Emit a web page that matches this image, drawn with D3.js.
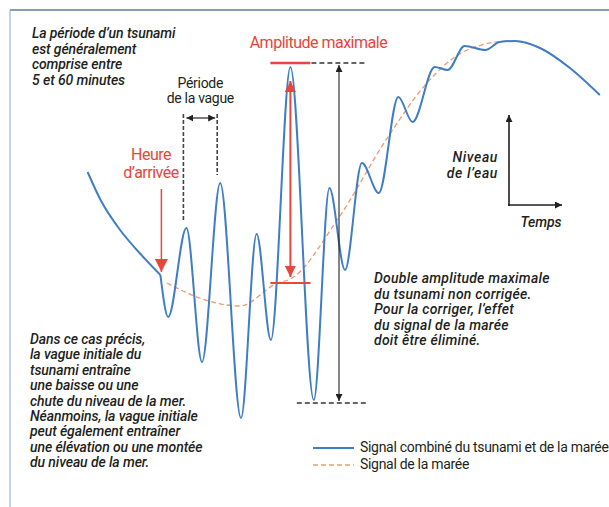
<!DOCTYPE html>
<html>
<head>
<meta charset="utf-8">
<script src="https://cdn.jsdelivr.net/npm/d3@7"></script>
<style>
  body { margin: 0; background: #fff; }
  text { font-family: Roboto, "Open Sans", sans-serif; fill: #231f20; }
  .note { font-style: italic; font-size: 14px; letter-spacing: -0.1px; font-weight: 500; }
  .note.wide { letter-spacing: 0.25px; }
  .note.axis { letter-spacing: 0.6px; }
  .red { fill: #e8453c; font-size: 16px; letter-spacing: -0.5px; }
</style>
</head>
<body>
<div id="chart"></div>
<script>
// time in minutes, water level in cm
var signalTime = [1, 6, 13.5, 21, 29, 32, 39, 45, 52, 60, 66, 71.5, 79, 88, 94, 100, 106.5, 113, 120.5, 126, 134.5, 139.5, 146, 154, 159.5, 165.5, 175, 186.5, 198];
var signalLevel = [134, 106, 76, 53, 31, -11, 78, -56, 123, -112, 72, -34, 239, -94, 118, 36, 143, 113, 209, 184, 239, 236, 260, 256, 264, 265, 258, 238, 211];

var tideTime = [31.5, 44, 59.5, 74, 79, 97, 116.5, 131.5, 147, 163.5, 175, 186.5, 198];
var tideLevel = [23, 8, 0, 23, 27, 86, 169, 223, 256, 265, 258, 238, 211];

var arrivalIndex = 4;      // point where the tsunami starts
var maxPeakIndex = 12;     // highest crest
var minTroughIndex = 13;   // lowest trough
var periodPeaks = [6, 8];  // crests used to show the period

var topNote = ["La période d’un tsunami", "est généralement", "comprise entre", "5 et 60 minutes"];
var leftNote = ["Dans ce cas précis,", "la vague initiale du", "tsunami entraîne", "une baisse ou une",
  "chute du niveau de la mer.", "Néanmoins, la vague initiale", "peut également entraîner",
  "une élévation ou une montée", "du niveau de la mer."];
var rightNote = ["Double amplitude maximale", "du tsunami non corrigée.", "Pour la corriger, l’effet",
  "du signal de la marée", "doit être éliminé."];
var legendLabels = ["Signal combiné du tsunami et de la marée", "Signal de la marée"];

const w = 609;
const h = 507;
const blue = "#3f7ec4";
const orange = "#f09a6b";
const red = "#e8453c";
const ink = "#231f20";

const signal = signalTime.map((t, i) => ({ t: t, v: signalLevel[i] }));
const tide = tideTime.map((t, i) => ({ t: t, v: tideLevel[i] }));

const x = d3.scaleLinear().domain([0, 200]).range([85, 605]);
const y = d3.scaleLinear().domain([-120, 280]).range([426, 26]);

const svg = d3.select("#chart").append("svg")
  .attr("width", w)
  .attr("height", h);

// arrow markers
function marker(id, color, size) {
  svg.append("defs").append("marker")
    .attr("id", id)
    .attr("viewBox", "0 0 10 10")
    .attr("refX", 10).attr("refY", 5)
    .attr("markerUnits", "userSpaceOnUse")
    .attr("markerWidth", size).attr("markerHeight", size)
    .attr("orient", "auto-start-reverse")
    .append("path")
    .attr("d", "M0,0 L10,5 L0,10 Z")
    .attr("fill", color);
}
marker("arrowBlack", ink, 7);
marker("arrowRed", red, 11);
marker("arrowRedBig", red, 13);

// frame
svg.append("line").attr("x1", 10).attr("x2", w).attr("y1", 10).attr("y2", 10)
  .attr("stroke", "#5b7fa6").attr("stroke-width", 1.6);
svg.append("line").attr("x1", 10).attr("x2", 10).attr("y1", 10).attr("y2", h)
  .attr("stroke", "#9fb5cc").attr("stroke-width", 1.2);

const line = d3.line()
  .x((d) => x(d.t))
  .y((d) => y(d.v))
  .curve(d3.curveMonotoneX);

// tide (dashed)
svg.append("path")
  .datum(tide)
  .attr("d", line)
  .attr("fill", "none")
  .attr("stroke", orange)
  .attr("stroke-width", 1.3)
  .attr("stroke-dasharray", "5,3");

// combined signal, split at the arrival so it keeps its kink
svg.append("path")
  .datum(signal.slice(0, arrivalIndex + 1))
  .attr("d", line)
  .attr("fill", "none")
  .attr("stroke", blue)
  .attr("stroke-width", 2);
svg.append("path")
  .datum(signal.slice(arrivalIndex))
  .attr("d", line)
  .attr("fill", "none")
  .attr("stroke", blue)
  .attr("stroke-width", 2);

// wave period
const p1 = signal[periodPeaks[0]];
const p2 = signal[periodPeaks[1]];
const periodY = 118;
[p1, p2].forEach((p) => {
  svg.append("line")
    .attr("x1", x(p.t) - 3).attr("x2", x(p.t) - 3)
    .attr("y1", periodY - 4).attr("y2", y(p.v) - 8)
    .attr("stroke", "#444").attr("stroke-width", 1.6)
    .attr("stroke-dasharray", "4,2");
});
svg.append("line")
  .attr("x1", x(p1.t)).attr("x2", x(p2.t) - 5)
  .attr("y1", periodY).attr("y2", periodY)
  .attr("stroke", ink).attr("stroke-width", 1.2)
  .attr("marker-start", "url(#arrowBlack)")
  .attr("marker-end", "url(#arrowBlack)");
svg.append("text").attr("x", (x(p1.t) + x(p2.t)) / 2 - 3).attr("y", 88)
  .attr("text-anchor", "middle").style("font-size", "14px").style("letter-spacing", "-0.3px")
  .text("Période");
svg.append("text").attr("x", (x(p1.t) + x(p2.t)) / 2 - 3).attr("y", 103)
  .attr("text-anchor", "middle").style("font-size", "14px").style("letter-spacing", "-0.3px")
  .text("de la vague");

// arrival time
const arr = signal[arrivalIndex];
svg.append("line")
  .attr("x1", x(arr.t) + 1).attr("x2", x(arr.t) + 1)
  .attr("y1", 189).attr("y2", y(arr.v) - 3)
  .attr("stroke", red).attr("stroke-width", 1.5)
  .attr("marker-end", "url(#arrowRedBig)");
svg.append("text").attr("class", "red").attr("x", 151).attr("y", 160)
  .attr("text-anchor", "middle").text("Heure");
svg.append("text").attr("class", "red").attr("x", 151).attr("y", 178)
  .attr("text-anchor", "middle").text("d’arrivée");

// maximum amplitude
const crest = signal[maxPeakIndex];
const trough = signal[minTroughIndex];
const tideAtPeak = 279;
svg.append("text").attr("class", "red").attr("x", x(crest.t) + 28).attr("y", 48)
  .attr("text-anchor", "middle").text("Amplitude maximale");
svg.append("line")
  .attr("x1", x(crest.t) - 20).attr("x2", x(crest.t) + 20)
  .attr("y1", y(crest.v) - 4).attr("y2", y(crest.v) - 4)
  .attr("stroke", red).attr("stroke-width", 2.5);
svg.append("line")
  .attr("x1", x(crest.t) - 20).attr("x2", x(crest.t) + 20)
  .attr("y1", tideAtPeak + 4).attr("y2", tideAtPeak + 4)
  .attr("stroke", red).attr("stroke-width", 2);
svg.append("line")
  .attr("x1", x(crest.t)).attr("x2", x(crest.t))
  .attr("y1", y(crest.v) + 14).attr("y2", tideAtPeak - 2)
  .attr("stroke", red).attr("stroke-width", 2)
  .attr("marker-start", "url(#arrowRed)")
  .attr("marker-end", "url(#arrowRed)");

// double amplitude
const dblX = 339;
svg.append("line")
  .attr("x1", x(crest.t) + 21).attr("x2", 366)
  .attr("y1", y(crest.v) - 4).attr("y2", y(crest.v) - 4)
  .attr("stroke", "#333").attr("stroke-width", 1.4)
  .attr("stroke-dasharray", "5,3");
svg.append("line")
  .attr("x1", x(trough.t) - 17).attr("x2", 366)
  .attr("y1", y(trough.v) + 3).attr("y2", y(trough.v) + 3)
  .attr("stroke", "#333").attr("stroke-width", 1.4)
  .attr("stroke-dasharray", "5,3");
svg.append("line")
  .attr("x1", dblX).attr("x2", dblX)
  .attr("y1", y(crest.v) - 2).attr("y2", y(trough.v) + 1)
  .attr("stroke", ink).attr("stroke-width", 1.1)
  .attr("marker-start", "url(#arrowBlack)")
  .attr("marker-end", "url(#arrowBlack)");

// level / time axes sketch
svg.append("path")
  .attr("d", "M509,206 L509,115")
  .attr("stroke", ink).attr("stroke-width", 1.6)
  .attr("marker-end", "url(#arrowBlack)");
svg.append("path")
  .attr("d", "M508,205 L562,205")
  .attr("stroke", ink).attr("stroke-width", 1.6)
  .attr("marker-end", "url(#arrowBlack)");
svg.append("text").attr("class", "note axis").attr("x", 498).attr("y", 162)
  .attr("text-anchor", "end").text("Niveau");
svg.append("text").attr("class", "note axis").attr("x", 498).attr("y", 178)
  .attr("text-anchor", "end").text("de l’eau");
svg.append("text").attr("class", "note").attr("x", 541).attr("y", 227)
  .attr("text-anchor", "middle").text("Temps");

// notes
function block(lines, x0, y0, step, cls) {
  svg.append("g").selectAll("text")
    .data(lines)
    .enter()
    .append("text")
    .attr("class", cls)
    .attr("x", x0)
    .attr("y", (d, i) => y0 + i * step)
    .text((d) => d);
}
block(topNote, 32, 38, 15.7, "note");
block(leftNote, 30, 344, 15.4, "note");
block(rightNote, 374, 283, 15.6, "note wide");

// legend
svg.append("line").attr("x1", 313).attr("x2", 354).attr("y1", 448).attr("y2", 448)
  .attr("stroke", blue).attr("stroke-width", 2);
svg.append("line").attr("x1", 313).attr("x2", 354).attr("y1", 465).attr("y2", 465)
  .attr("stroke", orange).attr("stroke-width", 1.3).attr("stroke-dasharray", "5,3");
svg.selectAll(".legend")
  .data(legendLabels)
  .enter()
  .append("text")
  .attr("class", "legend")
  .attr("x", 360)
  .attr("y", (d, i) => 452 + i * 17)
  .style("font-size", "14px")
  .style("letter-spacing", "-0.3px")
  .text((d) => d);
</script>
</body>
</html>
